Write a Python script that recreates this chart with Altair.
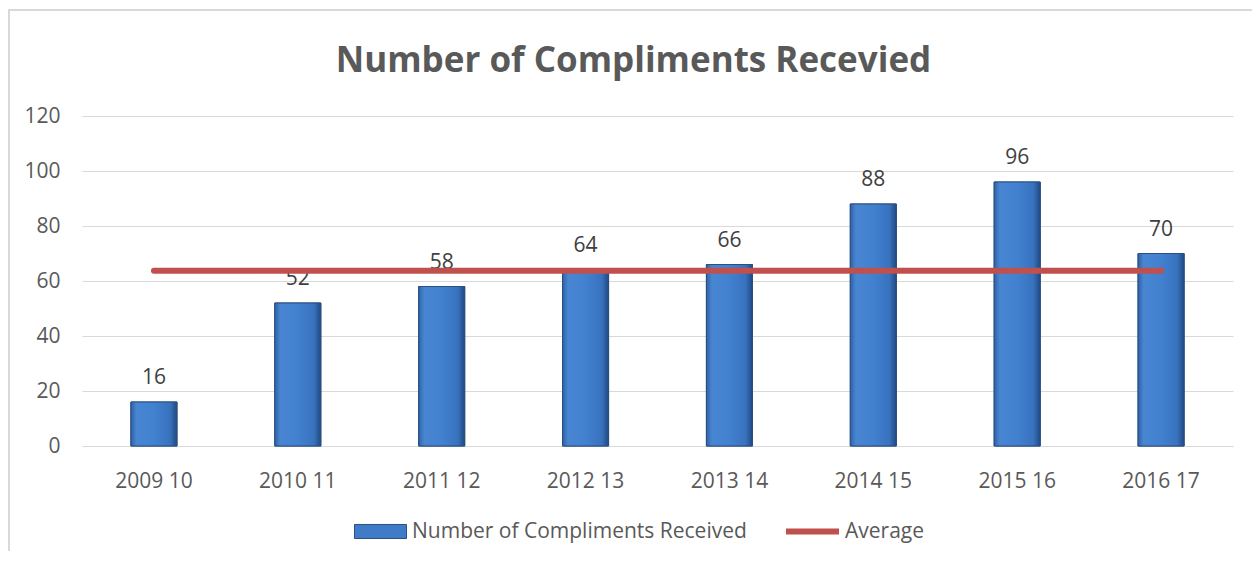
import altair as alt
import pandas as pd

years = ["2009 10", "2010 11", "2011 12", "2012 13", "2013 14", "2014 15", "2015 16", "2016 17"]
compliments = [16, 52, 58, 64, 66, 88, 96, 70]
average = [63.75, 63.75, 63.75, 63.75, 63.75, 63.75, 63.75, 63.75]
y_ticks = [0, 20, 40, 60, 80, 100, 120]

bar_name = "Number of Compliments Received"
avg_name = "Average"

df = pd.DataFrame({
    "year": years,
    "value": compliments,
    "avg": average,
    "bar_series": [bar_name] * len(years),
    "avg_series": [avg_name] * len(years),
})

FONT = "Open Sans"
FS = 21
W, H = 1151, 330

x_enc = alt.X("year:N", sort=years,
              scale=alt.Scale(paddingInner=0.68, paddingOuter=0.34),
              axis=alt.Axis(title=None, labelAngle=0, ticks=False, domain=True,
                            domainColor="#D9D9D9", domainWidth=1.2,
                            labelFontSize=FS, labelColor="#595959", labelFont=FONT,
                            labelPadding=24, grid=False))
y_scale = alt.Scale(domain=[0, 120])
y_axis = alt.Axis(title=None, values=y_ticks, ticks=False, domain=False,
                  labelFontSize=FS, labelColor="#595959", labelFont=FONT,
                  labelPadding=22, gridColor="#D9D9D9", gridWidth=1.2)

base = alt.Chart(df)

frame = base.mark_rect(fill=None, stroke="#D9D9D9", strokeWidth=1.5).encode(
    x=alt.value(-73), x2=alt.value(W + 40), y=alt.value(-106), y2=alt.value(H + 140)
)

legend_bars = base.mark_bar(stroke="#2A4F80", strokeWidth=1).encode(
    x=x_enc,
    y=alt.Y("value:Q", scale=y_scale, axis=y_axis),
    fill=alt.Fill("bar_series:N",
                  scale=alt.Scale(domain=[bar_name], range=["#3F7BC6"]),
                  legend=alt.Legend(title=None, orient="none", legendX=272, legendY=389,
                                    symbolType="M-1,-0.27H1V0.27H-1Z", symbolSize=2704,
                                    symbolStrokeColor="#2A4F80", symbolStrokeWidth=1,
                                    labelFontSize=FS, labelColor="#595959", labelFont=FONT,
                                    labelOffset=5, labelLimit=600)),
)

grad = alt.Gradient(
    gradient="linear", x1=0, x2=1, y1=0, y2=0,
    stops=[
        alt.GradientStop(color="#2F62A6", offset=0),
        alt.GradientStop(color="#4886D2", offset=0.12),
        alt.GradientStop(color="#4281CF", offset=0.5),
        alt.GradientStop(color="#3872BE", offset=0.85),
        alt.GradientStop(color="#1F4A82", offset=1),
    ],
)

bars = base.mark_bar(fill=grad, stroke="#2A4F80", strokeWidth=1).encode(
    x=alt.X("year:N", sort=years),
    y=alt.Y("value:Q", scale=y_scale),
)

labels = base.mark_text(baseline="bottom", dy=-14, fontSize=FS, color="#404040", font=FONT).encode(
    x=alt.X("year:N", sort=years),
    y=alt.Y("value:Q", scale=y_scale),
    text=alt.Text("value:Q"),
)

avg_line = base.mark_line(strokeWidth=6, strokeCap="round").encode(
    x=alt.X("year:N", sort=years),
    y=alt.Y("avg:Q", scale=y_scale),
    stroke=alt.Stroke("avg_series:N",
                      scale=alt.Scale(domain=[avg_name], range=["#C0504D"]),
                      legend=alt.Legend(title=None, orient="none", legendX=701, legendY=386,
                                        symbolType="stroke", symbolSize=2809,
                                        symbolStrokeWidth=6,
                                        labelFontSize=FS, labelColor="#595959", labelFont=FONT,
                                        labelOffset=3, labelLimit=300)),
)

chart = alt.layer(frame, legend_bars, bars, labels, avg_line).resolve_legend(
    fill="independent", stroke="independent"
).properties(
    width=W, height=H,
    autosize=alt.AutoSizeParams(type="none"),
    padding={"left": 74, "top": 108, "right": 19, "bottom": 105},
    title=alt.TitleParams("Number of Compliments Recevied", font=FONT, fontSize=35,
                          fontWeight="bold", color="#595959", anchor="middle",
                          frame="group", dx=-24, offset=-70),
    background="white",
).configure_view(stroke=None)

chart.save("out.html", embed_options={"renderer": "svg", "actions": False})
